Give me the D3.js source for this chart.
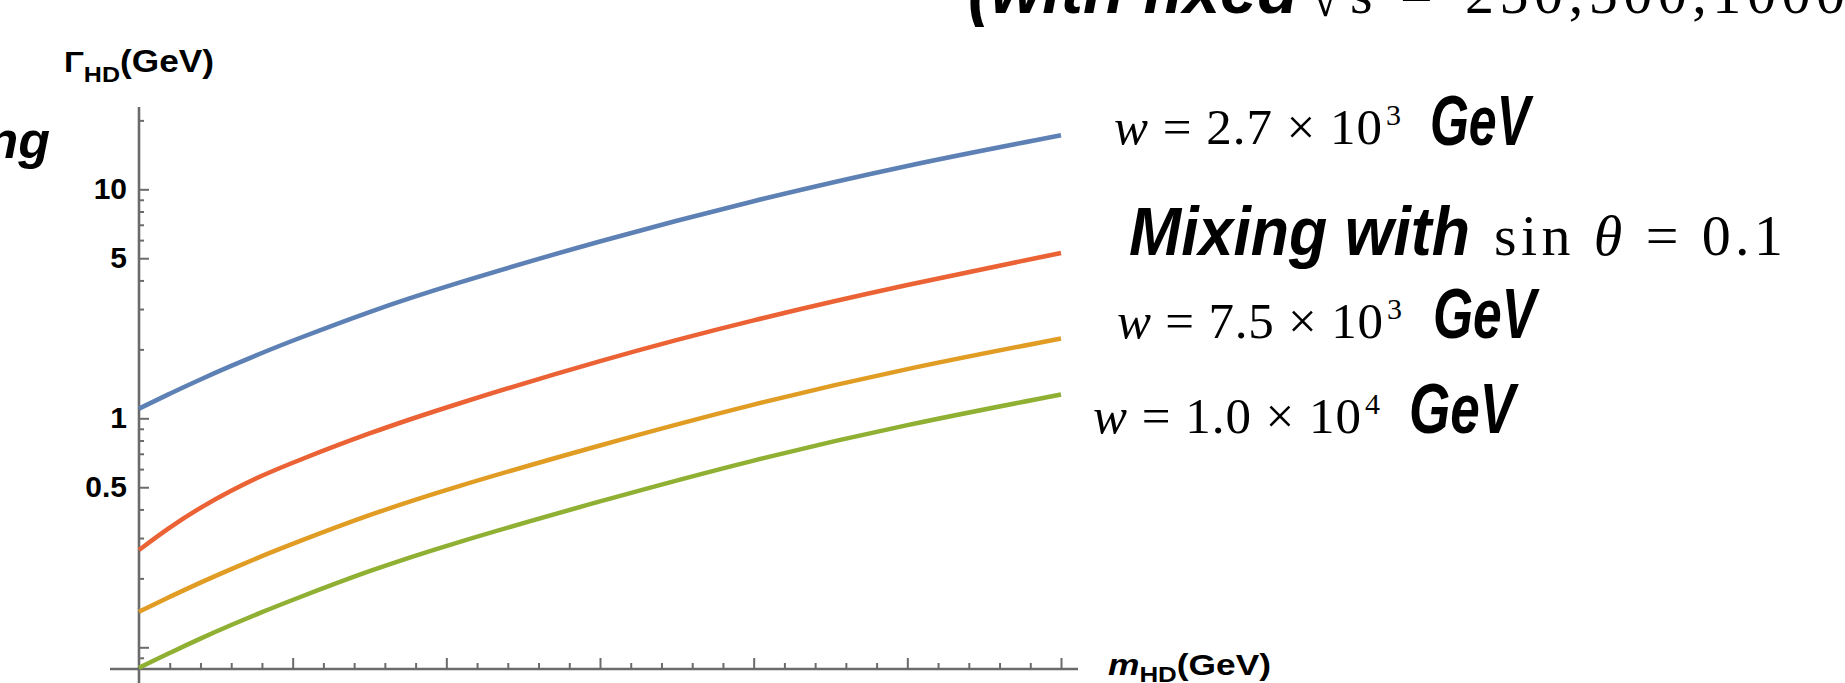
<!DOCTYPE html>
<html>
<head>
<meta charset="utf-8">
<script src="https://cdn.jsdelivr.net/npm/d3@7"></script>
<style>
body { margin: 0; background: #fff; }
svg { display: block; }
</style>
</head>
<body>
<script>
// m_HD values (ticks carry no labels in the original, so units are arbitrary)
var mass = [0, 20, 40, 60, 80, 100, 150, 200, 300, 400, 500, 600];

// Gamma_HD (GeV)
var gammaW27 = [1.102, 1.282, 1.480, 1.695, 1.931, 2.185, 2.930, 3.783, 5.970, 8.944, 12.77, 17.21];
var gammaMix = [0.266, 0.335, 0.408, 0.484, 0.563, 0.641, 0.864, 1.120, 1.797, 2.701, 3.840, 5.271];
var gammaW75 = [0.1429, 0.1662, 0.1919, 0.2198, 0.2502, 0.2832, 0.3797, 0.4902, 0.7646, 1.159, 1.655, 2.231];
var gammaW100 = [0.0814, 0.0946, 0.1093, 0.1252, 0.1425, 0.1612, 0.2163, 0.2792, 0.4354, 0.6603, 0.9424, 1.270];

var seriesColors = ["#5e81b5", "#eb6235", "#e19c24", "#8fb032"];

var yMajor = [0.1, 0.5, 1, 5, 10];
var yMinor = [0.09, 0.2, 0.3, 0.4, 0.6, 0.7, 0.8, 0.9, 2, 3, 4, 6, 7, 8, 9, 20];
var yLabels = [0.5, 1, 5, 10];
var xMajor = [100, 200, 300, 400, 500, 600];
var xMinor = d3.range(20, 600, 20).filter(function (d) { return d % 100 != 0; });

var width = 1845;
var height = 683;
var axisColor = "#6b6b6b";
var sans = "'Liberation Sans', Arial, sans-serif";
var narrow = "'Liberation Sans Narrow', 'Liberation Sans', sans-serif";
var serif = "'Liberation Serif', 'DejaVu Serif', serif";

var svg = d3.select("body").append("svg")
  .attr("width", width)
  .attr("height", height);

var x = d3.scaleLinear().domain([0, 600]).range([139, 1061]);
var y = d3.scaleLog().domain([0.1, 10]).range([647.3, 189.3]);

var x0 = x(0);
var yBase = 669;

function tickStyle(g) {
  g.select(".domain").remove();
  g.selectAll(".tick line").attr("stroke", axisColor).attr("stroke-width", 2);
}

// x ticks, pointing up into the plot
svg.append("g").attr("transform", "translate(0," + yBase + ")")
  .call(d3.axisTop(x).tickValues(xMajor).tickSize(11).tickFormat(""))
  .call(tickStyle);
svg.append("g").attr("transform", "translate(0," + yBase + ")")
  .call(d3.axisTop(x).tickValues(xMinor).tickSize(6).tickFormat(""))
  .call(tickStyle);

// y ticks, pointing right into the plot
svg.append("g").attr("transform", "translate(" + x0 + ",0)")
  .call(d3.axisRight(y).tickValues(yMajor).tickSize(10).tickFormat(""))
  .call(tickStyle);
svg.append("g").attr("transform", "translate(" + x0 + ",0)")
  .call(d3.axisRight(y).tickValues(yMinor).tickSize(5).tickFormat(""))
  .call(tickStyle);

// y tick labels
var yLab = svg.append("g").attr("transform", "translate(" + x0 + ",0)")
  .call(d3.axisLeft(y).tickValues(yLabels).tickSize(0).tickPadding(12)
    .tickFormat(function (d) { return String(d); }));
yLab.select(".domain").remove();
yLab.selectAll("text")
  .attr("font-family", sans)
  .attr("font-weight", "bold")
  .attr("font-size", 30)
  .attr("fill", "#000");

// axis lines
svg.append("line")
  .attr("x1", 110).attr("x2", 1078)
  .attr("y1", yBase).attr("y2", yBase)
  .attr("stroke", axisColor).attr("stroke-width", 2.6);
svg.append("line")
  .attr("x1", x0).attr("x2", x0)
  .attr("y1", 107).attr("y2", height)
  .attr("stroke", axisColor).attr("stroke-width", 2.6);

// curves
var series = [gammaW27, gammaMix, gammaW75, gammaW100];
var line = d3.line()
  .x(function (d, i) { return x(mass[i]); })
  .y(function (d) { return y(d); })
  .curve(d3.curveBasis);

series.forEach(function (s, i) {
  svg.append("path")
    .datum(s)
    .attr("fill", "none")
    .attr("stroke", seriesColors[i])
    .attr("stroke-width", 4.5)
    .attr("d", line);
});

// axis titles
var yt = svg.append("text")
  .attr("x", 64).attr("y", 72)
  .attr("font-family", sans).attr("font-weight", "bold")
  .attr("font-size", 29)
  .attr("textLength", 150).attr("lengthAdjust", "spacingAndGlyphs");
yt.append("tspan").text("Γ");
yt.append("tspan").attr("font-size", 22).attr("dy", 10).text("HD");
yt.append("tspan").attr("font-size", 31).attr("dy", -10).text("(GeV)");

var xt = svg.append("text")
  .attr("x", 1108).attr("y", 675)
  .attr("font-family", sans).attr("font-weight", "bold")
  .attr("font-size", 30)
  .attr("textLength", 163).attr("lengthAdjust", "spacingAndGlyphs");
xt.append("tspan").attr("font-style", "italic").text("m");
xt.append("tspan").attr("font-size", 22).attr("dy", 7).text("HD");
xt.append("tspan").attr("font-size", 30).attr("dy", -7).text("(GeV)");

// curve labels
function mathLabel(x1, x2, base, mant, exp, supX) {
  var t = svg.append("text")
    .attr("x", x1).attr("y", base)
    .attr("font-family", serif).attr("font-size", 51)
    .attr("textLength", x2 - x1).attr("lengthAdjust", "spacing");
  t.append("tspan").attr("font-style", "italic").text("w");
  t.append("tspan").text(" = " + mant + " × 10");
  svg.append("text")
    .attr("x", supX).attr("y", base - 19)
    .attr("font-family", serif).attr("font-size", 30)
    .text(exp);
}

function gevLabel(x1, x2, base) {
  svg.append("text")
    .attr("x", x1).attr("y", base)
    .attr("font-family", narrow).attr("font-weight", "bold")
    .attr("font-style", "italic").attr("font-size", 70)
    .attr("textLength", x2 - x1).attr("lengthAdjust", "spacingAndGlyphs")
    .text("GeV");
}

mathLabel(1114, 1382, 144, "2.7", "3", 1386);
gevLabel(1430, 1530, 145);
mathLabel(1117, 1383, 338, "7.5", "3", 1387);
gevLabel(1433, 1536, 338);
mathLabel(1093, 1361, 433, "1.0", "4", 1365);
gevLabel(1409, 1515, 433);

svg.append("text")
  .attr("x", 1129).attr("y", 255)
  .attr("font-family", narrow).attr("font-weight", "bold")
  .attr("font-style", "italic").attr("font-size", 68)
  .attr("textLength", 341).attr("lengthAdjust", "spacingAndGlyphs")
  .text("Mixing with");
var sinT = svg.append("text")
  .attr("x", 1494).attr("y", 255)
  .attr("font-family", serif).attr("font-size", 58)
  .attr("textLength", 289).attr("lengthAdjust", "spacing");
sinT.append("tspan").text("sin ");
sinT.append("tspan").attr("font-style", "italic").text("θ");
sinT.append("tspan").text(" = 0.1");

// cut-off text around the edges of the slide
svg.append("text")
  .attr("x", 50).attr("y", 158)
  .attr("text-anchor", "end")
  .attr("font-family", sans).attr("font-weight", "bold")
  .attr("font-style", "italic").attr("font-size", 52)
  .text("Mixing");

svg.append("text")
  .attr("x", 968).attr("y", 13)
  .attr("font-family", narrow).attr("font-weight", "bold")
  .attr("font-style", "italic").attr("font-size", 68)
  .attr("textLength", 330).attr("lengthAdjust", "spacingAndGlyphs")
  .text("(with fixed");
svg.append("text")
  .attr("x", 1311).attr("y", 16)
  .attr("font-family", serif).attr("font-size", 52)
  .text("√");
svg.append("text")
  .attr("x", 1350).attr("y", 13)
  .attr("font-family", serif).attr("font-size", 58)
  .text("s");
svg.append("text")
  .attr("x", 1400).attr("y", 13)
  .attr("font-family", serif).attr("font-size", 58)
  .text("=");
svg.append("text")
  .attr("x", 1465).attr("y", 13)
  .attr("font-family", serif).attr("font-size", 58)
  .attr("textLength", 380).attr("lengthAdjust", "spacing")
  .text("250,500,1000");
</script>
</body>
</html>
